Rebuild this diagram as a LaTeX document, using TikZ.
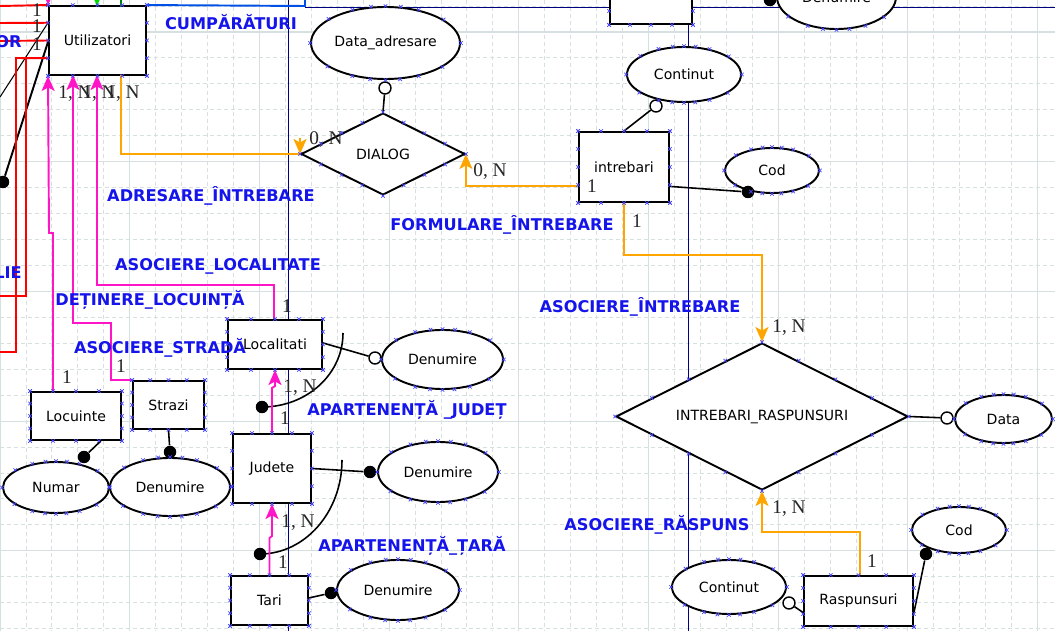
\documentclass[tikz,border=0pt]{standalone}
\usepackage{fontspec}
\setmainfont{DejaVu Sans}
\newfontfamily\cardfont{Liberation Serif}
\usepackage{tikz}
\usetikzlibrary{shapes.geometric,arrows.meta,calc}

\definecolor{gridc}{RGB}{214,224,224}
\definecolor{navyc}{RGB}{0,0,128}
\definecolor{rolab}{RGB}{20,20,235}
\definecolor{pinkc}{RGB}{255,20,200}
\definecolor{orangec}{RGB}{255,165,0}
\definecolor{markc}{RGB}{70,70,255}
\definecolor{topblue}{RGB}{0,80,230}
\definecolor{greenc}{RGB}{0,220,0}
\definecolor{dgreenc}{RGB}{0,128,0}

\tikzset{
  hx/.pic={\draw[markc,line width=0.4pt] (-0.035cm,-0.035cm)--(0.035cm,0.035cm) (-0.035cm,0.035cm)--(0.035cm,-0.035cm);},
  sz/.style 2 args={minimum width=#1*0.02cm, minimum height=#2*0.02cm}
}

% selection handles
\newcommand\boxmarks[1]{%
  \foreach \f in {0,0.25,0.5,0.75,1} {%
    \pic at ($(#1.north west)!\f!(#1.north east)$) {hx};
    \pic at ($(#1.south west)!\f!(#1.south east)$) {hx};
    \pic at ($(#1.north west)!\f!(#1.south west)$) {hx};
    \pic at ($(#1.north east)!\f!(#1.south east)$) {hx};
  }}
\newcommand\ellmarks[1]{%
  \foreach \a in {0,22,45,67,90,112,135,157,180,202,225,247,270,292,315,337} {\pic at (#1.\a) {hx};}}
\newcommand\diamarks[1]{%
  \foreach \f in {0,0.25,0.5,0.75} {%
    \pic at ($(#1.west)!\f!(#1.north)$) {hx};
    \pic at ($(#1.north)!\f!(#1.east)$) {hx};
    \pic at ($(#1.east)!\f!(#1.south)$) {hx};
    \pic at ($(#1.south)!\f!(#1.west)$) {hx};
  }}

\begin{document}
\begin{tikzpicture}[x=0.02cm,y=-0.02cm,>={Stealth[length=0.3cm,width=0.26cm,inset=0.07cm]}]
    \tikzstyle{entity} = [draw, line width=1.1pt, fill=white, shape=rectangle, inner sep=0pt, font=\fontsize{8}{9}\selectfont];
    \tikzstyle{attr} = [draw, line width=1.1pt, fill=white, shape=ellipse, inner sep=0pt, font=\fontsize{8}{9}\selectfont];
    \tikzstyle{rel} = [draw, line width=1.1pt, fill=white, shape=diamond, aspect=2, inner sep=0pt, font=\fontsize{8}{9}\selectfont];
    \tikzstyle{fdot} = [shape=circle, fill=black, inner sep=0pt, minimum size=0.25cm];
    \tikzstyle{hdot} = [shape=circle, draw, line width=0.8pt, fill=white, inner sep=0pt, minimum size=0.24cm];
    \tikzstyle{conn} = [draw, line width=0.9pt];
    \tikzstyle{pinkline} = [draw=pinkc, line width=1.1pt];
    \tikzstyle{orangeline} = [draw=orangec, line width=1.1pt];
    \tikzstyle{redline} = [draw=red, line width=1.1pt];
    \tikzstyle{navyline} = [draw=navyc, line width=0.5pt];
    \tikzstyle{card} = [inner sep=0pt, text=black!85, font=\cardfont\fontsize{11}{12}\selectfont];
    \tikzstyle{rolelab} = [inner sep=0pt, text=rolab, font=\bfseries\fontsize{9.2}{10}\selectfont];
    \tikzstyle{gridminor} = [draw=gridc, line width=0.5pt, dash pattern=on 0.08cm off 0.06cm];
    \tikzstyle{gridmajor} = [draw=gridc, line width=0.6pt];

    \useasboundingbox (0,0) rectangle (1055,631);
    \clip (0,0) rectangle (1055,631);
    \fill[white] (0,0) rectangle (1055,631);

    % Grid
    \foreach \i in {0,...,40} \draw[gridminor] (\i*25.94,0) -- (\i*25.94,631);
    \foreach \j in {0,...,24} \draw[gridminor] (0,6.06+\j*25.94) -- (1055,6.06+\j*25.94);
    \foreach \i in {0,...,8} \draw[gridmajor] (\i*129.7,0) -- (\i*129.7,631);
    \foreach \j in {0,...,4} \draw[gridmajor] (0,32+\j*129.7) -- (1055,32+\j*129.7);

    % Lines of other parts of the schema
    \draw[navyline] (288.5,0) -- (288.5,631);
    \draw[navyline] (688.5,20) -- (688.5,631);
    \draw[navyline] (305,7.5) -- (1055,7.5);

    % Entities
    \node [entity, sz={97}{69}] (util) at (97.5,40.5) {Utilizatori};
    \node [entity, sz={90}{48}] (locu) at (76,416) {Locuinte};
    \node [entity, sz={71}{48}] (strazi) at (168.5,405) {Strazi};
    \node [entity, sz={94}{49}] (local) at (275,344.5) {Localitati};
    \node [entity, sz={78}{69}] (judete) at (272,468.5) {Judete};
    \node [entity, sz={77}{49}] (tari) at (269.5,600.5) {Tari};
    \node [entity, sz={90}{70}] (intreb) at (624,167) {intrebari};
    \node [entity, sz={109}{50}] (rasp) at (858.5,601) {Raspunsuri};
    \node [entity, sz={82}{54}] (topbox) at (651,-3) {};

    % Relations
    \node [rel, sz={164}{82}] (dialog) at (383,154) {DIALOG};
    \node [rel, sz={292}{147}] (intrasp) at (762,416.5) {INTREBARI\_RASPUNSURI};

    % Attributes
    \node [attr, sz={149}{72}] (dataadr) at (385.5,43) {Data\_adresare};
    \node [attr, sz={114}{55}] (contq) at (684,74.5) {Continut};
    \node [attr, sz={94}{45}] (codq) at (772,170.5) {Cod};
    \node [attr, sz={121}{59}] (denloc) at (442.5,359.5) {Denumire};
    \node [attr, sz={120}{60}] (denjud) at (438,472) {Denumire};
    \node [attr, sz={122}{60}] (dentara) at (398,590) {Denumire};
    \node [attr, sz={106}{51}] (numar) at (56,487.5) {Numar};
    \node [attr, sz={120}{58}] (denstr) at (170,487) {Denumire};
    \node [attr, sz={97}{48}] (datar) at (1003.5,419) {Data};
    \node [attr, sz={114}{54}] (contr) at (729,587) {Continut};
    \node [attr, sz={94}{46}] (codr) at (959,530) {Cod};
    \node [attr, sz={119}{64}] (dentop) at (836.5,-3) {Denumire};

    % Attribute markers
    \node [fdot] (dcodq) at (748,192) {};
    \node [hdot] (hcontq) at (656,106) {};
    \node [hdot] (hdataadr) at (385,88) {};
    \node [hdot] (hdenloc) at (375,358) {};
    \node [fdot] (ddenjud) at (370,472) {};
    \node [fdot] (ddentara) at (331,593) {};
    \node [fdot] (dnumar) at (84,457) {};
    \node [fdot] (ddenstr) at (170,452) {};
    \node [hdot] (hdatar) at (947,418) {};
    \node [hdot] (hcontr) at (789,603) {};
    \node [fdot] (dcodr) at (926,554) {};
    \node [fdot] (darcloc) at (262,407) {};
    \node [fdot] (darcjud) at (260,554) {};
    \node [fdot] (dleft) at (3,182) {};
    \node [fdot] (dtop) at (770,0) {};
    \coordinate (lefta) at (0,97);

    % Attribute lines
    \draw [conn] (dialog.north) -- (hdataadr);
    \draw [conn] (intreb.north) -- (hcontq);
    \draw [conn] ($(intreb.north east)!0.77!(intreb.south east)$) -- (dcodq);
    \draw [conn] ($(local.north east)!0.47!(local.south east)$) -- (hdenloc);
    \draw [conn] (judete.east) -- (ddenjud);
    \draw [conn] ($(tari.north east)!0.45!(tari.south east)$) -- (ddentara);
    \draw [conn] ($(locu.south west)!0.77!(locu.south east)$) -- (dnumar);
    \draw [conn] (strazi.south) -- (ddenstr);
    \draw [conn] (intrasp.east) -- (hdatar);
    \draw [conn] ($(rasp.north west)!0.72!(rasp.south west)$) -- (hcontr);
    \draw [conn] ($(rasp.north east)!0.72!(rasp.south east)$) -- (dcodr);
    \draw [conn] (darcloc.center) .. controls (307,407) and (343,374) .. (343,333);
    \draw [conn] (darcjud.center) .. controls (305,554) and (342,512) .. (342,460);
    \draw [conn, line width=0.6pt] ($(util.north west)!0.25!(util.south west)$) -- (lefta);
    \draw [conn, line width=1.1pt] ($(util.north west)!0.52!(util.south west)$) -- (dleft);

    % Red links
    \draw [redline] (util.north west) -- (0,6);
    \draw [redline] ($(util.north west)!0.25!(util.south west)$) -- (0,23);
    \draw [redline] ($(util.north west)!0.5!(util.south west)$) -- (0,41);
    \draw [redline] ($(util.north west)!0.75!(util.south west)$) -- (16,58) -- (16,352) -- (0,352);
    \draw [redline] (26,58) -- (26,296) -- (0,296);

    % Top fragments
    \draw [pinkline, ->] (49,-30) -- (util.north west);
    \draw [draw=greenc, line width=1.1pt, ->] (97,-30) -- (97,6);
    \draw [draw=dgreenc, line width=1.1pt] (121,-5) -- (121,6);
    \draw [draw=topblue, line width=1.1pt] (util.north east) -- (305,6) -- (305,-5);

    % Magenta links
    \draw [pinkline, ->] ($(locu.north west)!0.25!(locu.north east)$) |- (49,233) -- (util.south west);
    \draw [pinkline, ->] (strazi.north west) -| (111,323) -| (73,75);
    \draw [pinkline, ->] ($(local.north west)!0.49!(local.north east)$) |- (97,285) -- (97,75);
    \draw [pinkline, ->] (judete.north) -- (272,388) -- (275,386) -- (local.south);
    \draw [pinkline, ->] (tari.north) -- (269.5,538) -- (272,536) -- (judete.south);

    % Orange links
    \draw [orangeline] (121,75) |- (dialog.west);
    \draw [orangeline, ->] ($(dialog.west)+(0,-16)$) -- (dialog.west);
    \draw [orangeline, ->] ($(intreb.north west)!0.77!(intreb.south west)$) -| (dialog.east);
    \draw [orangeline, ->] (intreb.south) -- ++(0,52) -| (intrasp.north);
    \draw [orangeline, ->] ($(rasp.north west)!0.51!(rasp.north east)$) -- ++(0,-43) -| (intrasp.south);

    % Cardinalities
    \node [card] (c1) at (75,94) {1, N};
    \node [card] (c2) at (99,94) {1, N};
    \node [card] (c3) at (123,94) {1, N};
    \node [card] (c4) at (326,140) {0, N};
    \node [card] (c5) at (490,172) {0, N};
    \node [card] (c6) at (592,186) {1};
    \node [card] (c7) at (637,221) {1};
    \node [card] (c8) at (789,328) {1, N};
    \node [card] (c9) at (789,509) {1, N};
    \node [card] (c10) at (872,561) {1};
    \node [card] (c11) at (67,377) {1};
    \node [card] (c12) at (121,366) {1};
    \node [card] (c13) at (287,306) {1};
    \node [card] (c14) at (300,388) {1, N};
    \node [card] (c15) at (285,418) {1};
    \node [card] (c16) at (298,523) {1, N};
    \node [card] (c17) at (283,562) {1};
    \node [card] (c18) at (37,10) {1};
    \node [card] (c19) at (37,26) {1};
    \node [card] (c20) at (37,44) {1};

    % Relation names
    \node [rolelab] (lcump) at (231,22) {CUMPĂRĂTURI};
    \node [rolelab] (ladr) at (211,196) {ADRESARE\_ÎNTREBARE};
    \node [rolelab] (lasloc) at (218,266) {ASOCIERE\_LOCALITATE};
    \node [rolelab] (ldet) at (150,300) {DEȚINERE\_LOCUINȚĂ};
    \node [rolelab] (lasstr) at (160,348) {ASOCIERE\_STRADĂ};
    \node [rolelab] (lapjud) at (407,410) {APARTENENȚĂ \_JUDEȚ};
    \node [rolelab] (laptar) at (412,546) {APARTENENȚĂ\_ȚARĂ};
    \node [rolelab] (lform) at (502,225) {FORMULARE\_ÎNTREBARE};
    \node [rolelab] (lasint) at (640,307) {ASOCIERE\_ÎNTREBARE};
    \node [rolelab] (lasrasp) at (657,525) {ASOCIERE\_RĂSPUNS};
    \node [rolelab, anchor=east] (lor) at (22,42) {OR};
    \node [rolelab, anchor=east] (llie) at (22,273) {LIE};

    % Handles
    \boxmarks{util} \boxmarks{locu} \boxmarks{strazi} \boxmarks{local} \boxmarks{judete}
    \boxmarks{tari} \boxmarks{intreb} \boxmarks{rasp} \boxmarks{topbox}
    \diamarks{dialog} \diamarks{intrasp}
    \ellmarks{dataadr} \ellmarks{contq} \ellmarks{codq} \ellmarks{denloc} \ellmarks{denjud}
    \ellmarks{dentara} \ellmarks{numar} \ellmarks{denstr} \ellmarks{datar} \ellmarks{contr}
    \ellmarks{codr} \ellmarks{dentop}
\end{tikzpicture}
\end{document}
